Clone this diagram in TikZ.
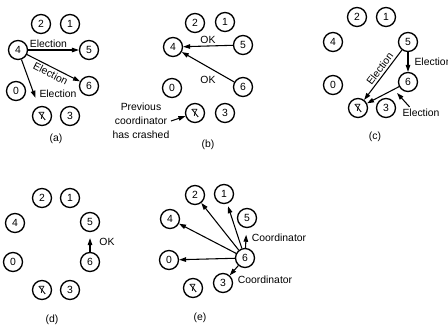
\documentclass[tikz,border=0pt]{standalone}
\usepackage{fontspec}
\setmainfont{Liberation Sans}
\usetikzlibrary{arrows.meta,calc}
\tikzset{
  txt/.style={font=\fontsize{7.8}{10.5}\selectfont},
  proc/.style={circle, draw, line width=1pt, minimum size=14.25pt, inner sep=0pt, txt},
  crashed/.style={proc, path picture={
      \draw[line width=0.6pt]
        ($(path picture bounding box.center)+(-2.4pt,3pt)$) --
        ($(path picture bounding box.center)+(2.4pt,-3pt)$);}},
  msg/.style={txt, inner sep=1.5pt},
  arr/.style={-{Triangle[length=5.2pt,width=3.4pt]}, line width=0.8pt},
  caption/.style={txt},
}
\begin{document}
\begin{tikzpicture}[x=0.75pt, y=-0.75pt]
\useasboundingbox (0,0) rectangle (448,329);

% ---------- (a) process 4 starts an election ----------
\foreach \n/\x/\y in {2/41/24, 1/70/24, 4/18/50, 5/89/50, 0/16/91, 6/89/86, 3/70/116}
  \node[proc] (a-\n) at (\x,\y) {\n};
\node[crashed] (a-7) at (42,116) {7};
\draw[arr] (a-4) -- node[msg, above, pos=0.4] {Election} (a-5);
\draw[arr] (a-4) -- node[msg, below, sloped, pos=0.5] {Election} (a-6);
\draw[arr, shorten >=7pt] (a-4) -- (a-7);
\node[msg] (a-m3) at (58,94) {Election};
\node[caption] (a-cap) at (56,139) {(a)};

% ---------- (b) processes 5 and 6 answer OK ----------
\foreach \n/\x/\y in {2/195/23, 1/225/22, 4/173/47, 5/243/45, 0/172/88, 6/243/87, 3/225/113}
  \node[proc] (b-\n) at (\x,\y) {\n};
\node[crashed] (b-7) at (195,113) {7};
\draw[arr] (b-5) -- node[msg, above] {OK} (b-4);
\draw[arr] (b-6) -- node[msg, below=5pt] {OK} (b-4);
\node[txt, align=center, inner sep=1pt] (b-note) at (141,121)
  {Previous\\coordinator\\has crashed};
\draw[arr] (b-note.east) -- (b-7);
\node[caption] (b-cap) at (208,145) {(b)};

% ---------- (c) 5 and 6 hold elections ----------
\foreach \n/\x/\y in {2/357/17, 1/386/17, 4/333/42, 5/408/42, 0/333/85, 6/408/82, 3/386/108}
  \node[proc] (c-\n) at (\x,\y) {\n};
\node[crashed] (c-7) at (358,108) {7};
\draw[arr] (c-5) -- node[msg, above, sloped, pos=0.45] {Election} (c-7);
\draw[arr] (c-5) -- node[msg, right=3pt] {Election} (c-6);
\draw[arr] (c-6) -- (c-7);
\node[msg] (c-note) at (421,113) {Election};
\coordinate (c-tip) at (397,93);
\draw[arr] ([xshift=7pt]c-note.north west) -- (c-tip);
\node[caption] (c-cap) at (375,137) {(c)};

% ---------- (d) 6 tells 5 to stop ----------
\foreach \n/\x/\y in {2/42/198, 1/70/198, 4/15/223, 5/90/222, 0/13/262, 6/90/262, 3/70/290}
  \node[proc] (d-\n) at (\x,\y) {\n};
\node[crashed] (d-7) at (42,290) {7};
\draw[arr, shorten >=4.5pt] (d-6) -- (d-5);
\node[msg] (d-ok) at (107,242) {OK};
\node[caption] (d-cap) at (52,320) {(d)};

% ---------- (e) 6 wins and tells everyone ----------
\foreach \n/\x/\y in {2/195/195, 1/224/194, 4/170/219, 5/247/218, 0/169/260, 6/245/258, 3/223/283}
  \node[proc] (e-\n) at (\x,\y) {\n};
\node[crashed] (e-7) at (193,288) {7};
\draw[arr] (e-6) -- (e-0);
\draw[arr] (e-6) -- (e-4);
\draw[arr] (e-6) -- (e-2);
\draw[arr, shorten >=2pt] (e-6) -- (e-1);
\draw[arr, shorten >=5pt] (e-6) -- (e-5);
\draw[arr] (e-6) -- (e-3);
\node[msg] (e-m5) at (279,238) {Coordinator};
\node[msg] (e-m3) at (265,280) {Coordinator};
\node[caption] (e-cap) at (200,318) {(e)};
\end{tikzpicture}
\end{document}
